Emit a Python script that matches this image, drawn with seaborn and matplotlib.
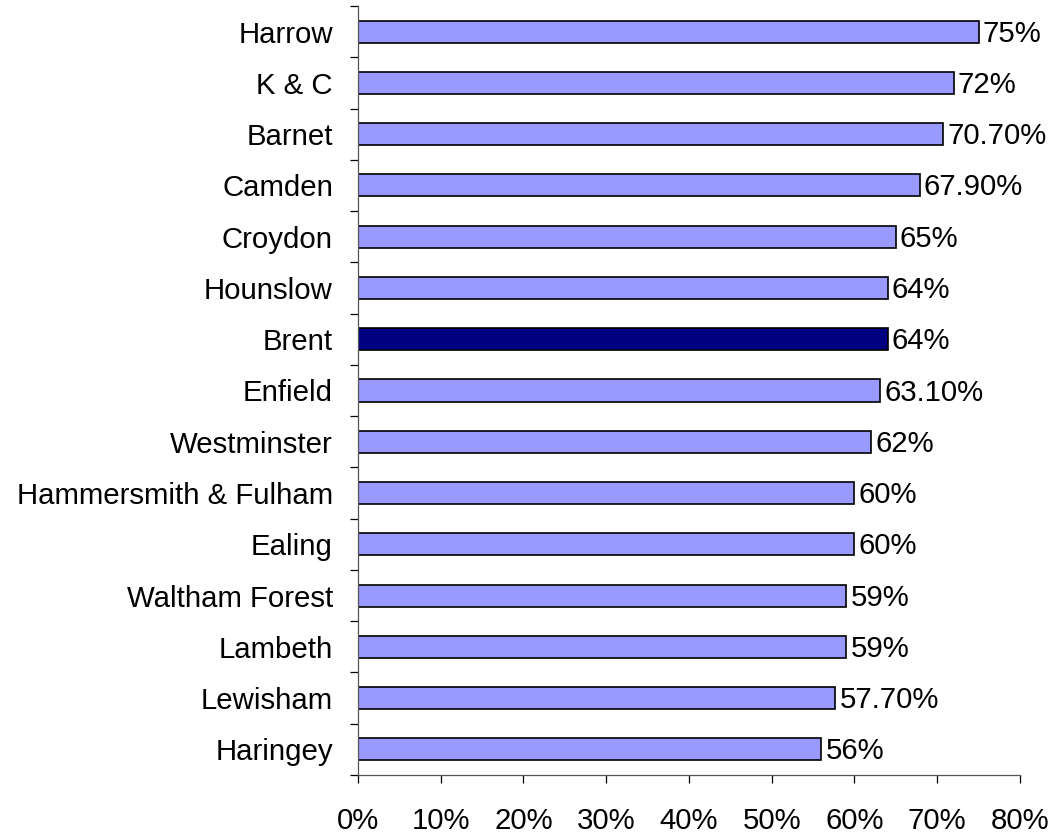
import matplotlib.pyplot as plt
import pandas as pd
import seaborn as sns
from matplotlib.ticker import FixedLocator, FuncFormatter

boroughs = [
    "Harrow", "K & C", "Barnet", "Camden", "Croydon", "Hounslow", "Brent",
    "Enfield", "Westminster", "Hammersmith & Fulham", "Ealing",
    "Waltham Forest", "Lambeth", "Lewisham", "Haringey",
]
values = [75, 72, 70.7, 67.9, 65, 64, 64, 63.1, 62, 60, 60, 59, 59, 57.7, 56]
highlight = "Brent"

LIGHT = "#9999FF"
DARK = "#000080"
FS = 21.2

df = pd.DataFrame({"borough": boroughs, "value": values})
df["group"] = ["hi" if b == highlight else "lo" for b in boroughs]

sns.set_style("white")
plt.rcParams["font.family"] = ["Liberation Sans", "DejaVu Sans"]

fig = plt.figure(figsize=(10.55, 8.36), dpi=100)
ax = fig.add_axes([0.3393, 0.073, 0.6275, 0.9198])

sns.barplot(
    data=df, x="value", y="borough", hue="group", orient="h",
    palette={"hi": DARK, "lo": LIGHT}, width=0.43, dodge=False, saturation=1,
    edgecolor="black", linewidth=1.2, legend=False, ax=ax,
)

for i, v in enumerate(values):
    txt = f"{v:.0f}%" if float(v).is_integer() else f"{v:.2f}%"
    ax.text(v + 0.5, i + 0.04, txt, va="center", ha="left", fontsize=FS, color="black")

ax.set_xlim(0, 80)
ax.set_ylim(len(boroughs) - 0.5, -0.5)
ax.set_xticks(range(0, 81, 10))
ax.xaxis.set_major_formatter(FuncFormatter(lambda x, _: f"{x:.0f}%"))
ax.yaxis.set_minor_locator(FixedLocator([i - 0.5 for i in range(len(boroughs) + 1)]))

ax.tick_params(axis="x", which="major", direction="out", length=6, width=0.9,
               color="black", labelsize=FS, labelcolor="black", pad=17, bottom=True)
ax.tick_params(axis="y", which="major", length=0, labelsize=FS,
               labelcolor="black", pad=18)
ax.tick_params(axis="y", which="minor", direction="out", length=6, width=0.9,
               color="black", left=True)

ax.set_xlabel("")
ax.set_ylabel("")
for side in ["top", "right"]:
    ax.spines[side].set_visible(False)
for side in ["left", "bottom"]:
    ax.spines[side].set_color("#555555")
    ax.spines[side].set_linewidth(0.9)

fig.savefig("out.png", dpi=100)
